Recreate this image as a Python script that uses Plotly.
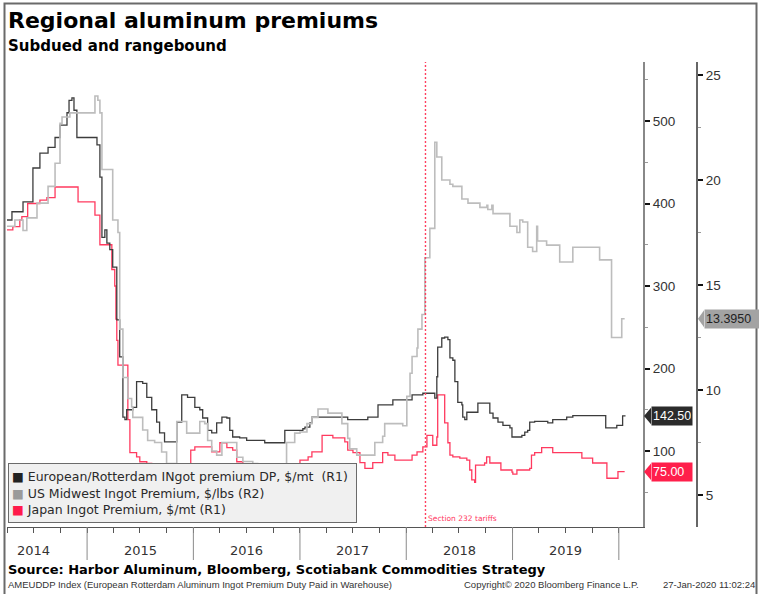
import plotly.graph_objects as go
import pandas as pd

# ---------------- data ----------------
eu_dates = ["2014-04-01", "2014-04-18", "2014-05-26", "2014-06-29", "2014-07-23", "2014-08-20",
            "2014-09-13", "2014-09-30", "2014-10-24", "2014-10-31", "2014-11-10", "2014-11-17",
            "2014-11-27", "2015-02-04", "2015-02-14", "2015-02-21", "2015-03-03", "2015-03-10",
            "2015-03-20", "2015-03-30", "2015-04-13", "2015-04-23", "2015-05-04", "2015-05-11",
            "2015-05-17", "2015-06-07", "2015-06-20", "2015-07-11", "2015-07-25", "2015-08-11",
            "2015-08-28", "2015-09-07", "2015-09-24", "2015-11-05", "2015-11-22", "2015-12-12",
            "2016-01-06", "2016-01-23", "2016-02-02", "2016-02-19", "2016-03-04", "2016-03-21",
            "2016-04-08", "2016-04-25", "2016-05-05", "2016-05-15", "2016-06-08", "2016-07-02",
            "2016-09-02", "2016-11-10", "2017-01-11", "2017-01-18", "2017-02-04", "2017-02-11",
            "2017-06-14", "2017-08-22", "2017-09-26", "2017-11-16", "2018-01-21", "2018-02-27",
            "2018-04-09", "2018-04-16", "2018-04-19", "2018-05-03", "2018-05-13", "2018-05-24",
            "2018-05-31", "2018-06-10", "2018-06-17", "2018-06-27", "2018-07-11", "2018-07-14",
            "2018-07-21", "2018-07-28", "2018-09-04", "2018-10-15", "2018-10-26", "2018-11-12",
            "2018-11-29", "2018-12-23", "2018-12-30", "2019-02-02", "2019-02-12", "2019-02-22",
            "2019-03-01", "2019-03-18", "2019-05-02", "2019-05-19", "2019-07-06", "2019-07-27",
            "2019-11-17", "2019-12-25", "2020-01-14", "2020-01-24"]
eu_values = [380, 390, 402, 443, 461, 468,
             480, 495, 510, 525, 528, 513,
             480, 471, 432, 359, 368, 352,
             344, 323, 259, 214, 141, 138,
             150, 153, 184, 182, 165, 150,
             135, 122, 111, 135, 168, 165,
             153, 150, 140, 125, 122, 134,
             141, 140, 125, 117, 116, 113,
             110, 125, 127, 129, 134, 141,
             138, 141, 156, 162, 168, 170,
             164, 190, 226, 237, 238, 235,
             213, 210, 184, 159, 156, 141,
             138, 147, 158, 146, 140, 135,
             131, 128, 117, 119, 123, 125,
             135, 136, 134, 138, 141, 143,
             128, 131, 142.5, 142.5]

us_dates = ["2014-04-01", "2014-04-28", "2014-05-26", "2014-06-08", "2014-07-13", "2014-08-20",
            "2014-09-13", "2014-09-30", "2014-10-07", "2014-11-03", "2015-01-28", "2015-02-07",
            "2015-02-14", "2015-02-21", "2015-03-30", "2015-04-17", "2015-04-23", "2015-05-04",
            "2015-05-21", "2015-06-03", "2015-06-07", "2015-07-11", "2015-07-28", "2015-08-21",
            "2015-09-14", "2015-10-01", "2015-11-05", "2015-12-09", "2016-01-23", "2016-02-09",
            "2016-02-19", "2016-03-04", "2016-03-21", "2016-04-08", "2016-05-29", "2016-06-19",
            "2016-07-23", "2016-08-09", "2016-11-03", "2016-11-16", "2016-12-14", "2017-01-01",
            "2017-01-25", "2017-02-11", "2017-03-04", "2017-04-07", "2017-05-25", "2017-06-14",
            "2017-06-21", "2017-07-15", "2017-09-15", "2017-10-12", "2017-10-19", "2017-12-20",
            "2018-01-03", "2018-01-14", "2018-01-21", "2018-02-07", "2018-02-10", "2018-02-24",
            "2018-03-06", "2018-03-23", "2018-04-09", "2018-04-16", "2018-05-03", "2018-05-31",
            "2018-06-10", "2018-07-11", "2018-08-01", "2018-09-11", "2018-10-05", "2018-10-08",
            "2018-10-22", "2018-10-26", "2018-12-23", "2019-01-16", "2019-01-26", "2019-02-05",
            "2019-02-22", "2019-03-11", "2019-03-25", "2019-03-28", "2019-04-28", "2019-06-12",
            "2019-07-27", "2019-10-27", "2019-12-07", "2020-01-11", "2020-01-21"]
us_values = [17.8, 18.1, 17.6, 18.2, 18.9, 19.7,
             20.8, 22.7, 23.0, 23.2, 24.0, 23.8,
             23.2, 20.5, 18.1, 17.5, 12.9, 10.6,
             9.6, 9.2, 8.7, 8.1, 7.6, 7.5,
             7.05, 6.5, 8.5, 7.95, 8.5, 8.4,
             7.6, 7.1, 6.9, 7.5, 6.8, 6.6,
             6.5, 6.2, 6.3, 7.5, 7.95, 8.0,
             8.4, 8.7, 9.1, 8.9, 8.4, 7.7,
             7.2, 6.9, 7.5, 7.8, 8.4, 8.3,
             9.7, 10.8, 11.6, 12.0, 12.9, 13.6,
             16.3, 17.7, 21.8, 21.1, 20.0, 19.8,
             19.7, 19.1, 18.9, 18.7, 18.8, 18.6,
             18.8, 18.4, 17.8, 17.5, 18.1, 18.0,
             16.8, 16.6, 17.8, 17.1, 16.9, 16.1,
             16.8, 16.2, 12.5, 13.395, 13.395]

jp_dates = ["2014-04-01", "2014-04-21", "2014-05-15", "2014-05-22", "2014-06-11", "2014-07-23",
            "2014-08-16", "2014-09-13", "2014-12-01", "2015-01-28", "2015-02-14", "2015-03-27",
            "2015-04-06", "2015-04-10", "2015-04-13", "2015-04-17", "2015-05-21", "2015-05-28",
            "2015-06-20", "2015-07-01", "2015-07-25", "2015-08-11", "2015-12-23", "2016-01-06",
            "2016-03-04", "2016-04-01", "2016-04-25", "2016-05-15", "2016-05-29", "2016-06-19",
            "2016-12-08", "2017-01-01", "2017-01-29", "2017-02-11", "2017-03-18", "2017-04-24",
            "2017-06-04", "2017-06-14", "2017-07-02", "2017-07-26", "2017-08-12", "2017-09-08",
            "2017-10-12", "2017-10-30", "2017-11-23", "2018-01-21", "2018-02-07", "2018-02-27",
            "2018-03-13", "2018-04-02", "2018-04-16", "2018-04-19", "2018-05-13", "2018-05-24",
            "2018-05-31", "2018-06-10", "2018-07-04", "2018-07-28", "2018-08-07", "2018-08-14",
            "2018-08-24", "2018-08-27", "2018-09-27", "2018-10-04", "2018-10-15", "2018-11-22",
            "2018-12-30", "2019-01-02", "2019-01-16", "2019-03-01", "2019-03-07", "2019-03-18",
            "2019-04-11", "2019-05-19", "2019-08-27", "2019-10-03", "2019-11-21", "2019-12-29",
            "2020-01-21"]
jp_values = [368, 372, 380, 384, 400, 404,
             407, 420, 402, 386, 350, 320,
             300, 260, 234, 204, 138, 98,
             93, 87, 85, 60, 101, 105,
             99, 110, 104, 101, 87, 60,
             81, 89, 93, 99, 119, 116,
             111, 101, 98, 86, 79, 86,
             98, 95, 89, 95, 99, 105,
             119, 107, 117, 168, 134, 110,
             95, 93, 91.5, 89, 77, 65,
             62, 83, 85.5, 93, 85.5, 77,
             74.5, 72, 77, 79, 95, 98,
             104, 98, 91.5, 85.5, 67, 75,
             75]

eu_name = "European/Rotterdam INgot premium DP, $/mt  (R1)"
us_name = "US Midwest Ingot Premium, $/lbs (R2)"
jp_name = "Japan Ingot Premium, $/mt (R1)"

eu_last, jp_last, us_last = 142.50, 75.00, 13.3950
eu_last_text, jp_last_text, us_last_text = "142.50", "75.00", "13.3950"

years = [2014, 2015, 2016, 2017, 2018, 2019]
year_bounds = [2015, 2016, 2017, 2018, 2019, 2020]
r1_ticks = [100, 200, 300, 400, 500]
r2_ticks = [5, 10, 15, 20, 25]
tariff_date = "2018-03-08"
tariff_text = "Section 232 tariffs"

title = "Regional aluminum premiums"
subtitle = "Subdued and rangebound"
source = "Source: Harbor Aluminum, Bloomberg, Scotiabank Commodities Strategy"
foot_left = "AMEUDDP Index (European Rotterdam Aluminum Ingot Premium Duty Paid in Warehouse)"
foot_mid = "Copyright\u00a9 2020 Bloomberg Finance L.P."
foot_right = "27-Jan-2020 11:02:24"

# ---------------- styling ----------------
C_EU = "#3c3c3c"
C_US = "#bdbdbd"
C_JP = "#ff3a5f"
SW_EU, SW_US, SW_JP = "#222222", "#9a9a9a", "#ff1a4b"
FONT = "DejaVu Sans"
NUMFONT = "Liberation Sans"

fig = go.Figure()
fig.add_trace(go.Scatter(x=us_dates, y=us_values, yaxis="y2", mode="lines", line_shape="hv",
                         name=us_name, line=dict(color=C_US, width=1.6), hoverinfo="skip"))
fig.add_trace(go.Scatter(x=jp_dates, y=jp_values, mode="lines", line_shape="hv",
                         name=jp_name, line=dict(color=C_JP, width=1.3), hoverinfo="skip"))
fig.add_trace(go.Scatter(x=eu_dates, y=eu_values, mode="lines", line_shape="hv",
                         name=eu_name, line=dict(color=C_EU, width=1.3), hoverinfo="skip"))

# plot box in pixels: x 7..697 (paper), axis R1 at 643, R2 at 697 ; y 62..527
PW, PH = 690.0, 465.0
def px(xp):
    return (xp - 7) / PW
def py(yp):
    return (527 - yp) / PH

xdom_end = px(643)
quarters = [d.strftime("%Y-%m-%d") for d in pd.date_range("2014-04-01", "2020-01-01", freq="QS")]

fig.update_layout(
    width=759, height=594,
    margin=dict(l=7, r=62, t=62, b=67),
    paper_bgcolor="white", plot_bgcolor="white",
    font=dict(family=FONT, size=12, color="#333333"),
    showlegend=False,
    xaxis=dict(domain=[0, xdom_end], type="date", range=["2014-04-01", "2020-03-24"],
               showgrid=False, zeroline=False, showline=True, linecolor="#555555", linewidth=1,
               tickmode="array", tickvals=quarters, ticktext=[""] * len(quarters),
               ticks="outside", ticklen=5, tickcolor="#555555", tickwidth=1),
    yaxis=dict(side="right", anchor="x", range=[7.9, 571.5], showgrid=False, zeroline=False,
               showline=True, linecolor="#888888", linewidth=2,
               tickmode="array", tickvals=r1_ticks, ticks="outside", ticklen=5, tickwidth=2,
               tickcolor="#111111", tickfont=dict(family=NUMFONT, size=13.5, color="#333333"),
               minor=dict(tickmode="array", tickvals=[50, 150, 250, 350, 450, 550],
                          ticks="outside", ticklen=3, tickcolor="#999999", tickwidth=1)),
    yaxis2=dict(side="right", overlaying="y", anchor="free", position=1.0, range=[3.48, 25.62],
                showgrid=False, zeroline=False, showline=True, linecolor="#666666", linewidth=2,
                tickmode="array", tickvals=r2_ticks, ticks="outside", ticklen=5, tickwidth=2,
                tickcolor="#111111", tickfont=dict(family=NUMFONT, size=13.5, color="#333333"),
                minor=dict(tickmode="array", tickvals=[7.5, 12.5, 17.5, 22.5],
                           ticks="outside", ticklen=3, tickcolor="#999999", tickwidth=1)),
)

shapes = []
# outer frame
shapes.append(dict(type="rect", xref="paper", yref="paper", x0=px(4.5), x1=px(756.5),
                   y0=py(640), y1=py(3.5), line=dict(color="#6a6a6a", width=2), layer="below"))
# year separators
for yb in year_bounds:
    shapes.append(dict(type="line", xref="x", yref="paper", x0=f"{yb}-01-01", x1=f"{yb}-01-01",
                       y0=0, y1=py(560), line=dict(color="#8a8a8a", width=1)))
# tariff line
shapes.append(dict(type="line", xref="x", yref="paper", x0=tariff_date, x1=tariff_date,
                   y0=0, y1=1, line=dict(color="#ff4060", width=1.4, dash="2px,2px")))
# pointers for last-value tags
def tag_pointer(x_tip, x_base, yref, yval, half, color):
    return dict(type="path", xref="paper", yref=yref,
                path=f"M {x_tip},{yval} L {x_base},{yval + half} L {x_base},{yval - half} Z",
                fillcolor=color, line=dict(width=0))
shapes.append(tag_pointer(px(644), px(651), "y", eu_last, 10, "#2b2b2b"))
shapes.append(tag_pointer(px(644), px(651), "y", jp_last, 10, "#ff1f4b"))
shapes.append(tag_pointer(px(698), px(704), "y2", us_last, 0.4, "#a3a3a3"))
fig.update_layout(shapes=shapes)

ann = []
ann.append(dict(text=f"<b>{title}</b>", xref="paper", yref="paper", x=px(6), y=py(6),
                xanchor="left", yanchor="top", showarrow=False,
                font=dict(family=FONT, size=22, color="#000000")))
ann.append(dict(text=f"<b>{subtitle}</b>", xref="paper", yref="paper", x=px(6), y=py(35),
                xanchor="left", yanchor="top", showarrow=False,
                font=dict(family=FONT, size=15, color="#000000")))
for yr in years:
    ann.append(dict(text=str(yr), xref="x", yref="paper", x=f"{yr}-07-02", y=py(541),
                    xanchor="center", yanchor="top", showarrow=False,
                    font=dict(family=FONT, size=13, color="#333333")))
ann.append(dict(text=f"<b>{source}</b>", xref="paper", yref="paper", x=px(6), y=py(560),
                xanchor="left", yanchor="top", showarrow=False,
                font=dict(family=FONT, size=13, color="#000000")))
foot_font = dict(family="Liberation Sans Narrow, Arial Narrow, Liberation Sans", size=9.5, color="#333333")
ann.append(dict(text=foot_left, xref="paper", yref="paper", x=px(6), y=py(577),
                xanchor="left", yanchor="top", showarrow=False, font=foot_font))
ann.append(dict(text=foot_mid, xref="paper", yref="paper", x=px(462), y=py(577),
                xanchor="left", yanchor="top", showarrow=False, font=foot_font))
ann.append(dict(text=foot_right, xref="paper", yref="paper", x=px(757), y=py(577),
                xanchor="right", yanchor="top", showarrow=False, font=foot_font))
ann.append(dict(text=tariff_text, xref="x", yref="paper", x=tariff_date, y=py(512),
                xanchor="left", yanchor="top", showarrow=False, xshift=1,
                font=dict(family=FONT, size=7.5, color="#ff3a5f")))
# legend box (drawn as a text block)
legend_lines = [
    f"<span style='color:{SW_EU}'>\u25A0</span> {eu_name}",
    f"<span style='color:{SW_US}'>\u25A0</span> {us_name}",
    f"<span style='color:{SW_JP}'>\u25A0</span> {jp_name}",
]
ann.append(dict(text="<br>".join(legend_lines), xref="paper", yref="paper", x=px(8), y=py(463),
                xanchor="left", yanchor="top", showarrow=False, align="left",
                bgcolor="#f0f0f0", bordercolor="#6b6b6b", borderwidth=1, borderpad=3,
                width=341, height=52,
                font=dict(family=FONT, size=12.5, color="#2a2a2a")))
# last-value tags
ann.append(dict(text=eu_last_text, xref="paper", yref="y", x=px(651), y=eu_last,
                xanchor="left", yanchor="middle", showarrow=False, bgcolor="#2b2b2b",
                width=38, height=16, align="left", borderpad=1,
                font=dict(family=NUMFONT, size=12.5, color="#ffffff")))
ann.append(dict(text=jp_last_text, xref="paper", yref="y", x=px(651), y=jp_last,
                xanchor="left", yanchor="middle", showarrow=False, bgcolor="#ff1f4b",
                width=38, height=16, align="left", borderpad=1,
                font=dict(family=NUMFONT, size=12.5, color="#ffffff")))
ann.append(dict(text=us_last_text, xref="paper", yref="y2", x=px(704), y=us_last,
                xanchor="left", yanchor="middle", showarrow=False, bgcolor="#a3a3a3",
                width=52, height=16, align="left", borderpad=1,
                font=dict(family=NUMFONT, size=12.5, color="#222222")))
fig.update_layout(annotations=ann)

fig.write_html("out.html", config={"displayModeBar": False},
               post_script="document.body.style.margin='0px';document.body.style.padding='0px';")
